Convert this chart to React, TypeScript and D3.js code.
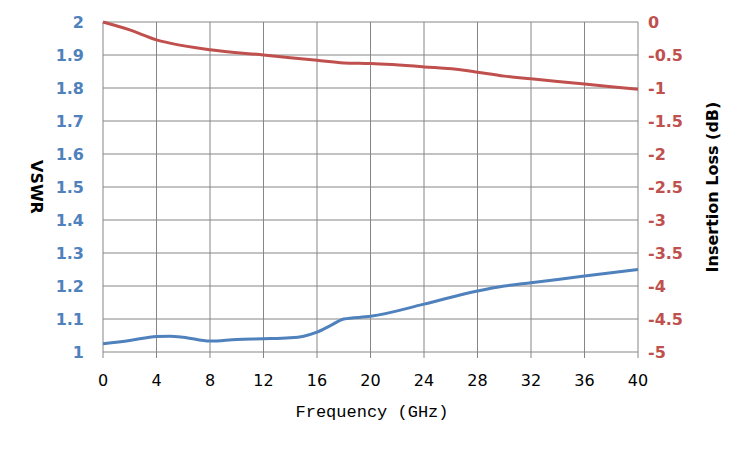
import React from "react";
import * as d3 from "d3";

const freqTicks = [0, 4, 8, 12, 16, 20, 24, 28, 32, 36, 40];
const vswrTicks = [1, 1.1, 1.2, 1.3, 1.4, 1.5, 1.6, 1.7, 1.8, 1.9, 2];
const lossTicks = [0, -0.5, -1, -1.5, -2, -2.5, -3, -3.5, -4, -4.5, -5];

const vswrFreq = [0, 2, 4, 5, 6, 8, 10, 12, 14, 15, 16, 17, 18, 20, 24, 28, 30, 32, 36, 40];
const vswrVals = [1.025, 1.035, 1.047, 1.048, 1.045, 1.033, 1.038, 1.04, 1.043, 1.048, 1.06, 1.08, 1.1, 1.108, 1.145, 1.185, 1.2, 1.21, 1.23, 1.25];

const lossFreq = [0, 2, 4, 5, 8, 12, 16, 18, 20, 24, 27, 28, 30, 32, 36, 40];
const lossVals = [0, -0.12, -0.27, -0.32, -0.42, -0.5, -0.58, -0.62, -0.63, -0.68, -0.73, -0.76, -0.82, -0.86, -0.94, -1.02];

const BLUE = "#4F81BD";
const RED = "#C0504D";

export default function App() {
  const W = 750, H = 450;
  const x = d3.scaleLinear().domain([0, 40]).range([103, 638]);
  const yL = d3.scaleLinear().domain([1, 2]).range([352, 22]);
  const yR = d3.scaleLinear().domain([-5, 0]).range([352, 22]);
  const lineL = d3.line<number>().x((_, i) => x(vswrFreq[i])).y((d) => yL(d)).curve(d3.curveMonotoneX);
  const lineR = d3.line<number>().x((_, i) => x(lossFreq[i])).y((d) => yR(d)).curve(d3.curveMonotoneX);
  const font = "Verdana, 'DejaVu Sans', sans-serif";
  return (
    <svg width={W} height={H} style={{ position: "absolute", left: 0, top: 0 }}>
      <rect width={W} height={H} fill="#fff" />
      {vswrTicks.map((t) => (
        <line key={"h" + t} x1={103} x2={638} y1={yL(t)} y2={yL(t)} stroke="#868686" strokeWidth={1} />
      ))}
      {freqTicks.map((t) => (
        <g key={"v" + t}>
          <line x1={x(t)} x2={x(t)} y1={22} y2={358} stroke="#868686" strokeWidth={1} />
          <text x={x(t)} y={386} textAnchor="middle" fontFamily={font} fontSize={16} fill="#000">{t}</text>
        </g>
      ))}
      {vswrTicks.map((t) => (
        <text key={"l" + t} x={84} y={yL(t) + 6} textAnchor="end" fontFamily={font} fontWeight="bold" fontSize={16} fill={BLUE}>{d3.format("")(+t.toFixed(1))}</text>
      ))}
      {lossTicks.map((t) => (
        <text key={"r" + t} x={648} y={yR(t) + 6} textAnchor="start" fontFamily={font} fontWeight="bold" fontSize={16} fill={RED}>{String(t)}</text>
      ))}
      <path d={lineL(vswrVals) || ""} fill="none" stroke={BLUE} strokeWidth={3} />
      <path d={lineR(lossVals) || ""} fill="none" stroke={RED} strokeWidth={3} />
      <text x={372} y={417} textAnchor="middle" fontFamily="'Liberation Mono', 'DejaVu Sans Mono', monospace" fontSize={17} fill="#000">Frequency (GHz)</text>
      <text transform={`translate(31,187) rotate(90)`} textAnchor="middle" fontFamily={font} fontWeight="bold" fontSize={16} fill="#000">VSWR</text>
      <text transform={`translate(718,187) rotate(-90)`} textAnchor="middle" fontFamily={font} fontWeight="bold" fontSize={16} fill="#000">Insertion Loss (dB)</text>
    </svg>
  );
}
